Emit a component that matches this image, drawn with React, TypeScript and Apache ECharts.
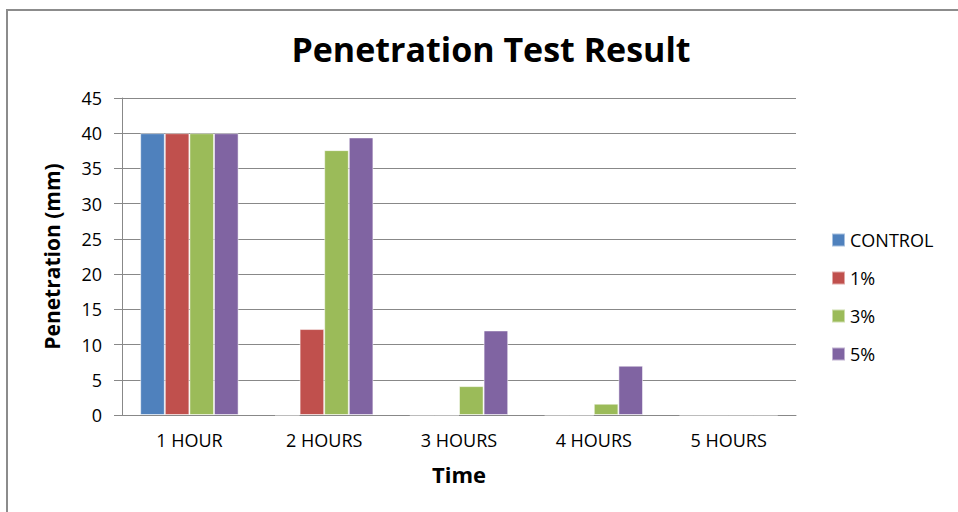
import React, { useEffect, useRef } from "react";
import * as echarts from "echarts";

const categories = ["1 HOUR", "2 HOURS", "3 HOURS", "4 HOURS", "5 HOURS"];
const seriesNames = ["CONTROL", "1%", "3%", "5%"];
const controlValues = [40, 0, 0, 0, 0];
const onePctValues = [40, 12.2, 0, 0, 0];
const threePctValues = [40, 37.6, 4.1, 1.6, 0];
const fivePctValues = [40, 39.4, 12.0, 7.0, 0];
const colors = ["#4F81BD", "#C0504D", "#9BBB59", "#8064A2"];

export default function App() {
  const ref = useRef<HTMLDivElement>(null);
  useEffect(() => {
    if (!ref.current) return;
    const chart = echarts.init(ref.current, null, { renderer: "svg" });
    const font = "'Open Sans', 'Noto Sans', sans-serif";
    const data = [controlValues, onePctValues, threePctValues, fivePctValues];
    chart.setOption({
      animation: false,
      backgroundColor: "#fff",
      color: colors,
      textStyle: { fontFamily: font },
      title: {
        text: "Penetration Test Result",
        left: 486,
        textAlign: "center",
        top: 27,
        textStyle: { fontSize: 34, fontWeight: "bold", color: "#000", fontFamily: font },
      },
      graphic: [
        {
          type: "rect",
          shape: { x: 7, y: 10, width: 970, height: 520 },
          style: { fill: "none", stroke: "#8c8c8c", lineWidth: 2 },
          silent: true,
        },
      ],
      legend: {
        orient: "vertical",
        left: 826,
        top: 226,
        itemWidth: 13,
        itemHeight: 13,
        itemGap: 20,
        icon: "rect",
        textStyle: { fontSize: 18, color: "#000", fontFamily: font },
        data: seriesNames,
      },
      grid: { left: 122, right: 162, top: 98, bottom: 97, containLabel: false },
      xAxis: {
        type: "category",
        data: categories,
        name: "Time",
        nameLocation: "middle",
        nameGap: 48,
        nameTextStyle: { fontSize: 22, fontWeight: "bold", color: "#000", fontFamily: font },
        axisLine: { lineStyle: { color: "#888", width: 1 } },
        axisTick: { show: false },
        axisLabel: { fontSize: 18, color: "#000", margin: 16, fontFamily: font },
      },
      yAxis: {
        type: "value",
        min: 0,
        max: 45,
        interval: 5,
        name: "Penetration (mm)",
        nameLocation: "middle",
        nameGap: 60,
        nameTextStyle: { fontSize: 21, fontWeight: "bold", color: "#000", fontFamily: font },
        axisLine: { show: true, lineStyle: { color: "#888", width: 1 } },
        axisTick: { show: true, length: 8, inside: false, lineStyle: { color: "#888" } },
        axisLabel: { fontSize: 18, color: "#000", margin: 20, fontFamily: font },
        splitLine: { show: true, lineStyle: { color: "#888", width: 1 } },
      },
      series: seriesNames.map((name, i) => ({
        name,
        type: "bar",
        data: data[i],
        barGap: "0%",
        barCategoryGap: "27%",
        itemStyle: { color: colors[i], borderColor: "rgba(255,255,255,0.5)", borderWidth: 1 },
      })),
    });
    return () => chart.dispose();
  }, []);
  return (
    <div
      ref={ref}
      style={{ position: "fixed", left: 0, top: 0, width: 958, height: 512 }}
    />
  );
}
